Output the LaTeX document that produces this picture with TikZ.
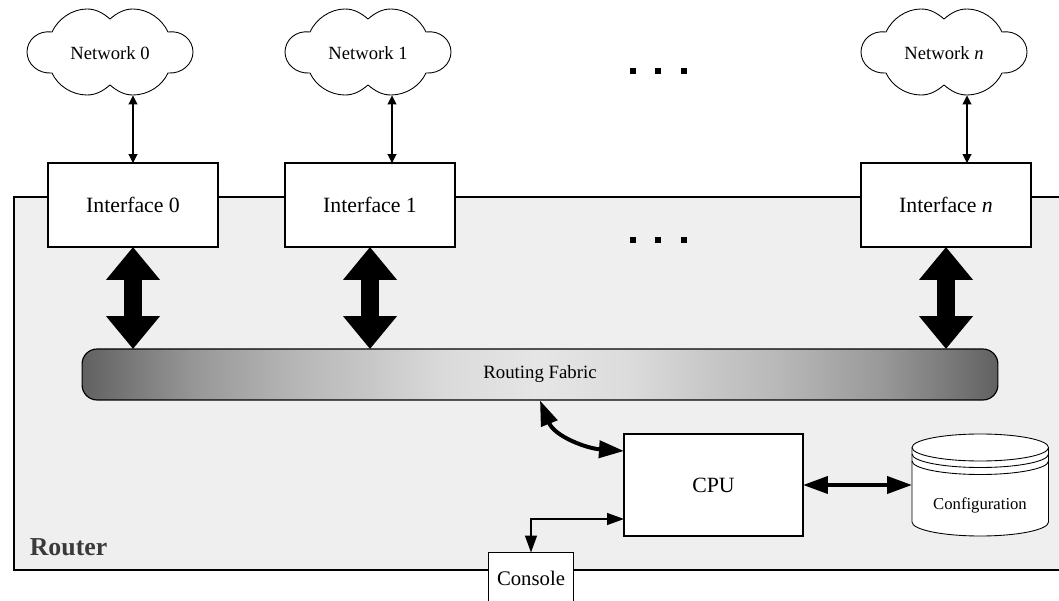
\documentclass[tikz,border=0pt]{standalone}
\usepackage{fontspec}
\setmainfont{Liberation Serif}
\usetikzlibrary{arrows.meta}
\definecolor{routerfill}{RGB}{239,239,239}
\definecolor{routertext}{RGB}{58,58,58}
\pgfdeclarehorizontalshading{fabricshade}{100bp}{
  color(0bp)=(black!62); color(25bp)=(black!62); color(27.8bp)=(black!52); color(31.4bp)=(black!40);
  color(36.9bp)=(black!28); color(40.7bp)=(black!22); color(45.1bp)=(black!14); color(50bp)=(black!10);
  color(54.9bp)=(black!14); color(59.3bp)=(black!22); color(63.1bp)=(black!28); color(68.6bp)=(black!40);
  color(72.2bp)=(black!52); color(75bp)=(black!62); color(100bp)=(black!62)}
\tikzset{
  netcloud/.pic={
    \draw[fill=white,line width=0.5pt] (0,-33)
      .. controls (-7,-39) and (-14,-43) .. (-23,-43)
      .. controls (-38,-43) and (-52,-33) .. (-58,-20)
      .. controls (-72,-22) and (-83,-12) .. (-83,0)
      .. controls (-83,12) and (-72,22) .. (-58,21)
      .. controls (-52,34) and (-38,43) .. (-23,43)
      .. controls (-14,43) and (-7,39) .. (0,33)
      .. controls (7,39) and (14,43) .. (23,43)
      .. controls (38,43) and (52,34) .. (58,21)
      .. controls (72,22) and (83,12) .. (83,0)
      .. controls (83,-12) and (72,-22) .. (58,-20)
      .. controls (52,-33) and (38,-43) .. (23,-43)
      .. controls (14,-43) and (7,-39) .. (0,-33) -- cycle;
  },
  nettext/.style={minimum width=3.32cm,minimum height=1.72cm,inner sep=0pt,outer sep=0pt,font=\fontsize{10.6}{12}\selectfont},
  whitebox/.style={draw,fill=white,line width=0.75pt,inner sep=0pt,outer sep=0pt,font=\fontsize{12.4}{14}\selectfont},
  ifbox/.style={whitebox,minimum width=3.4cm,minimum height=1.68cm},
  dotmark/.style={fill=black,minimum size=0.12cm,inner sep=0pt},
  thinarrow/.style={<->,>={Triangle[length=1.8mm,width=1.8mm]},line width=0.6pt},
  consolearrow/.style={<->,>={Triangle[length=3.4mm,width=2.4mm]},line width=0.8pt},
  midarrow/.style={<->,>={Triangle[length=5mm,width=3.4mm]},line width=0.08cm},
  bigarrow/.style={<->,>={Triangle[length=6.6mm,width=10.4mm]},line width=0.36cm}
}
\begin{document}
\begin{tikzpicture}[x=0.02cm,y=-0.02cm]
\useasboundingbox (0,0) rectangle (1059,601);
\clip (0,0) rectangle (1059,601);

\draw[fill=routerfill,line width=1.2pt] (14,197) rectangle (1080,570);
\node[anchor=base west,inner sep=0pt,text=routertext,font=\bfseries\fontsize{14.7}{16}\selectfont] (router) at (29.5,555) {Router};

\pic at (110,52) {netcloud};
\pic at (368,52) {netcloud};
\pic at (944,52) {netcloud};
\node[nettext] (net0) at (110,53) {Network 0};
\node[nettext] (net1) at (368,53) {Network 1};
\node[nettext] (netn) at (944,53) {Network \textit{n}};

\node[ifbox] (if0) at (133,205) {Interface 0};
\node[ifbox] (if1) at (370,205) {Interface 1};
\node[ifbox] (ifn) at (946,205) {Interface \textit{n}};

\node[dotmark] (dota1) at (632.5,71.5) {};
\node[dotmark] (dota2) at (658,71.5) {};
\node[dotmark] (dota3) at (683.5,71.5) {};
\node[dotmark] (dotb1) at (632.5,240.5) {};
\node[dotmark] (dotb2) at (658,240.5) {};
\node[dotmark] (dotb3) at (683.5,240.5) {};

\coordinate (port0) at (133,95.5);
\coordinate (port1) at (392,95.5);
\coordinate (portn) at (967,95.5);
\draw[thinarrow] (port0) -- (port0 |- if0.north);
\draw[thinarrow] (port1) -- (port1 |- if1.north);
\draw[thinarrow] (portn) -- (portn |- ifn.north);

\node[draw,rounded corners=0.3cm,shading=fabricshade,shading angle=0,
  line width=0.65pt,minimum width=18.32cm,minimum height=1.02cm,inner sep=0pt,outer sep=0pt,
  font=\fontsize{10.7}{12}\selectfont] (fabric) at (540,374.5) {Routing Fabric};

\draw[bigarrow] (if0.south) -- (if0.south |- fabric.north);
\draw[bigarrow] (if1.south) -- (if1.south |- fabric.north);
\draw[bigarrow] (ifn.south) -- (ifn.south |- fabric.north);

\node[whitebox,minimum width=3.58cm,minimum height=2.04cm] (cpu) at (713.5,485) {CPU};

\coordinate (fabricport) at (540,400.5);
\coordinate (cpuport) at (624,451);
\draw[midarrow] (fabricport) to[out=-68,in=176] (cpuport);

% configuration store
\draw[fill=white,line width=0.5pt] (912,447.5) -- (912,522)
  arc[start angle=180,end angle=0,x radius=68.25,y radius=14] -- (1048.5,447.5)
  arc[start angle=0,end angle=-180,x radius=68.25,y radius=13.5] -- cycle;
\draw[line width=0.5pt] (912,447.5) arc[start angle=180,end angle=0,x radius=68.25,y radius=13.5];
\draw[line width=0.5pt] (912,454) arc[start angle=180,end angle=0,x radius=68.25,y radius=13.5];
\draw[line width=0.5pt] (912,461) arc[start angle=180,end angle=0,x radius=68.25,y radius=13.5];
\node[minimum width=2.73cm,minimum height=2.04cm,inner sep=0pt,outer sep=0pt] (config) at (980.25,485) {};
\node[font=\fontsize{9.5}{11}\selectfont] (configlabel) at (980,505.5) {Configuration};

\draw[midarrow] (cpu.east) -- (config.west);

\node[whitebox,anchor=north,minimum width=1.69cm,minimum height=1.04cm,font=\fontsize{11.8}{14}\selectfont] (console) at (531,552.5) {Console};
\coordinate (cpuport2) at (624,519);
\draw[consolearrow] (console.north) |- (cpuport2);

\end{tikzpicture}
\end{document}
